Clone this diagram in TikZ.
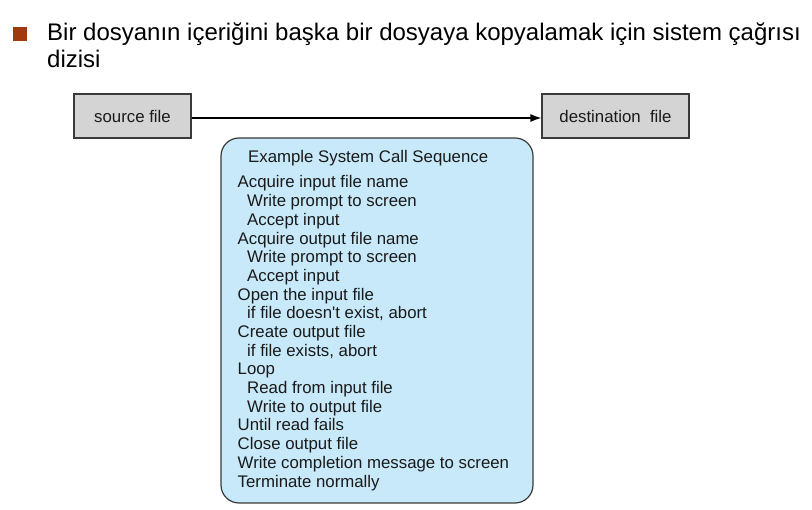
\documentclass[tikz,border=0pt]{standalone}
\usepackage{fontspec}
\setmainfont{Liberation Sans}[Ligatures=TeXOff]
\usetikzlibrary{arrows.meta}
\definecolor{bul}{HTML}{9E3A0E}
\definecolor{boxgray}{HTML}{D4D4D4}
\definecolor{seqblue}{HTML}{C7E9F9}
\definecolor{edgecol}{HTML}{3A3A3A}
\definecolor{txt}{HTML}{1A1A1A}
\begin{document}
\begin{tikzpicture}[x=1pt,y=-1pt,
  titletext/.style={anchor=base west, inner sep=0pt, text=black, font=\fontsize{24}{28}\selectfont},
  filebox/.style={draw=edgecol, fill=boxgray, line width=1.2pt, minimum height=44pt, inner sep=0pt, text=txt, font=\fontsize{16.8}{19}\selectfont},
  seqbox/.style={draw=edgecol, fill=seqblue, rounded corners=18pt, line width=1.2pt, inner sep=0pt},
  seqline/.style={anchor=base west, inner sep=0pt, text=txt, font=\fontsize{16.8}{19}\selectfont},
  conn/.style={-{Latex[length=11pt,width=8pt]}, line width=1.3pt, draw=black}
]
\useasboundingbox (0,0) rectangle (812,510);
\fill[white] (0,0) rectangle (812,510);

\node[fill=bul, minimum size=14pt, inner sep=0pt, anchor=north west] (bullet) at (12.5,27) {};
\node[titletext] (title1) at (47,41) {Bir dosyanın içeriğini başka bir dosyaya kopyalamak için sistem çağrısı};
\node[titletext] (title2) at (47,68) {dizisi};

\node[filebox, minimum width=117pt] (src) at (132.5,116) {source file};
\node[filebox, minimum width=147pt] (dst) at (615.5,116) {destination\ \ file};
\draw[conn] ([yshift=-2pt]src.east) -- ([yshift=-2pt]dst.west);

\node[seqbox, minimum width=312pt, minimum height=365pt] (seq) at (377,320.5) {};
\node[seqline] (head) at (248,163) {Example System Call Sequence};
\foreach \t/\ind [count=\i from 0] in {
  Acquire input file name/0,
  Write prompt to screen/1,
  Accept input/1,
  Acquire output file name/0,
  Write prompt to screen/1,
  Accept input/1,
  Open the input file/0,
  if file doesn't exist{,} abort/1,
  Create output file/0,
  if file exists{,} abort/1,
  Loop/0,
  Read from input file/1,
  Write to output file/1,
  Until read fails/0,
  Close output file/0,
  Write completion message to screen/0,
  Terminate normally/0}
  \node[seqline] (line\i) at ({237.5+9.5*\ind},{188+18.69*\i}) {\t};
\end{tikzpicture}
\end{document}
